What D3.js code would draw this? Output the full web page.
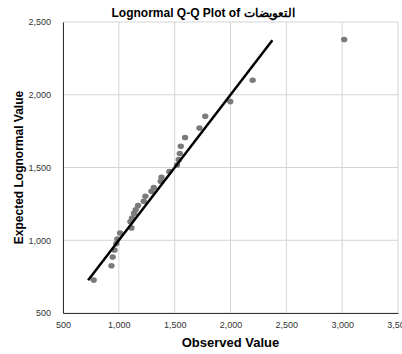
<!DOCTYPE html>
<html>
<head>
<meta charset="utf-8">
<script src="https://cdn.jsdelivr.net/npm/d3@7"></script>
<style>
  body { margin: 0; background: #fff; }
  text { font-family: "Liberation Sans", Arial, sans-serif; }
</style>
</head>
<body>
<div id="chart"></div>
<script>
// observed values vs expected lognormal values
const observed = [775, 934, 945, 961, 978, 987, 1011, 1113, 1104, 1118, 1136, 1151, 1172, 1223, 1238,
    1292, 1313, 1375, 1382, 1453, 1521, 1537, 1546, 1555, 1593, 1722, 1774, 1998, 2198, 3018];
const expected = [726, 825, 885, 933, 977, 1009, 1050, 1085, 1128, 1153, 1186, 1210, 1238, 1268, 1302,
    1336, 1362, 1405, 1433, 1472, 1517, 1554, 1596, 1646, 1706, 1771, 1852, 1953, 2100, 2380];
const refLine = [725, 2375];
const xTicks = [500, 1000, 1500, 2000, 2500, 3000, 3500];
const yTicks = [500, 1000, 1500, 2000, 2500];

const width = 402, height = 354;
const margin = {top: 22, right: 4, bottom: 41, left: 63};

const svg = d3.select("#chart").append("svg")
    .attr("width", width).attr("height", height);

const x = d3.scaleLinear().domain([500, 3500]).range([margin.left, width - margin.right]);
const y = d3.scaleLinear().domain([500, 2500]).range([height - margin.bottom, margin.top]);

// gridlines
svg.append("g").selectAll("line").data(xTicks).join("line")
    .attr("x1", d => x(d)).attr("x2", d => x(d))
    .attr("y1", y(2500)).attr("y2", y(500))
    .attr("stroke", "#d4d4d4").attr("stroke-width", 1);
svg.append("g").selectAll("line").data(yTicks).join("line")
    .attr("x1", x(500)).attr("x2", x(3500))
    .attr("y1", d => y(d)).attr("y2", d => y(d))
    .attr("stroke", "#d4d4d4").attr("stroke-width", 1);

// axes
const fmt = d3.format(",");
const xAxis = svg.append("g").attr("transform", `translate(0,${y(500)})`)
    .call(d3.axisBottom(x).tickValues(xTicks).tickFormat(fmt).tickSize(0).tickPadding(9));
const yAxis = svg.append("g").attr("transform", `translate(${x(500)},0)`)
    .call(d3.axisLeft(y).tickValues(yTicks).tickFormat(fmt).tickSize(0).tickPadding(12));
[xAxis, yAxis].forEach(a => {
    a.select(".domain").attr("stroke", "#333").attr("stroke-width", 1);
    a.selectAll("text").attr("fill", "#333").style("font-size", "9px")
        .style("font-family", "'Liberation Sans', Arial, sans-serif");
});

// points
svg.append("g").selectAll("ellipse").data(observed).join("ellipse")
    .attr("cx", (d, i) => x(d)).attr("cy", (d, i) => y(expected[i]))
    .attr("rx", 3.2).attr("ry", 2.8)
    .attr("fill", "#7a7a7a");

// reference line
svg.append("line")
    .attr("x1", x(refLine[0])).attr("y1", y(refLine[0]))
    .attr("x2", x(refLine[1])).attr("y2", y(refLine[1]))
    .attr("stroke", "#000").attr("stroke-width", 2.5);

// titles
svg.append("text")
    .attr("x", 203).attr("y", 17)
    .attr("text-anchor", "middle")
    .style("font-size", "12px").style("font-weight", "bold")
    .text("Lognormal Q-Q Plot of التعويضات");

svg.append("text")
    .attr("x", x(2000)).attr("y", 347)
    .attr("text-anchor", "middle")
    .style("font-size", "13px").style("font-weight", "bold")
    .text("Observed Value");

svg.append("text")
    .attr("transform", `translate(23,${(y(500) + y(2500)) / 2}) rotate(-90)`)
    .attr("text-anchor", "middle")
    .style("font-size", "12px").style("font-weight", "bold")
    .text("Expected Lognormal Value");
</script>
</body>
</html>
